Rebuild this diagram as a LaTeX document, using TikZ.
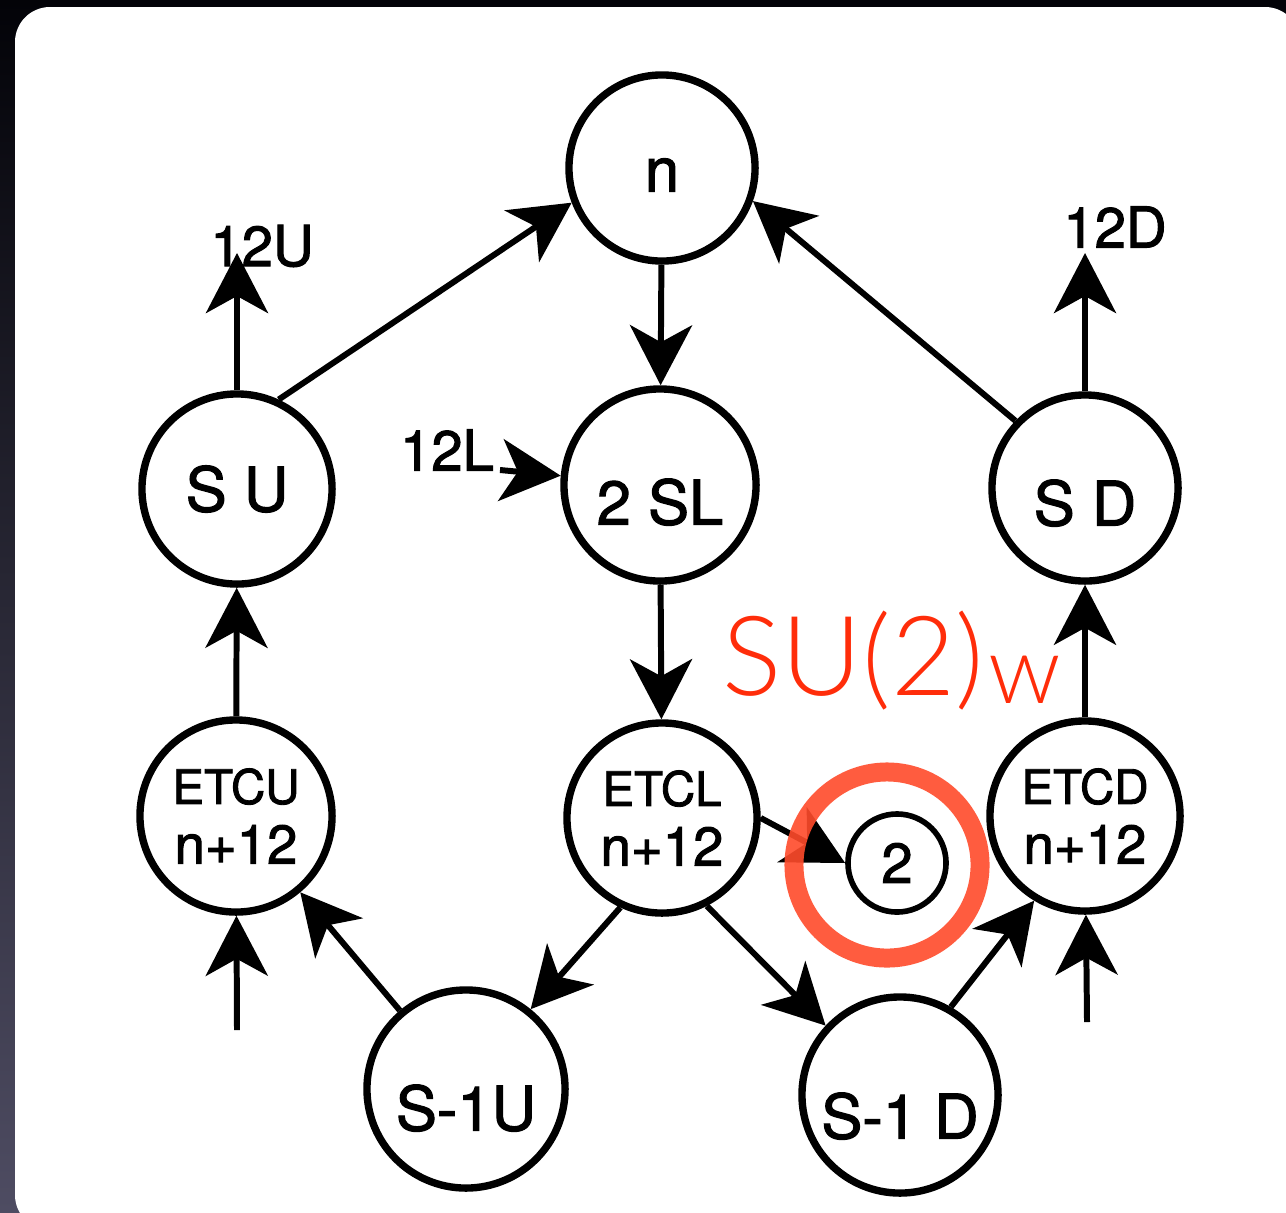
\documentclass[tikz,border=0pt]{standalone}
\usepackage{fontspec}
\setmainfont{TeX Gyre Heros}[FakeBold=1.8]
\newfontfamily\redfont{Lato Light}
\usetikzlibrary{arrows.meta}
\definecolor{ringred}{HTML}{FF4B2B}
\definecolor{textred}{HTML}{FF2D0A}
\definecolor{bgtop}{HTML}{030308}
\definecolor{bgmid}{HTML}{0E0E24}
\definecolor{bgbot}{HTML}{4E4C62}

\begin{document}
\begin{tikzpicture}[x=0.01cm, y=-0.01cm,
    state/.style={draw, circle, line width=2.1pt, inner sep=0pt, font=\fontsize{17.5}{20}\selectfont},
    etc/.style={state, align=center, font=\fontsize{15.5}{17}\selectfont},
    flow/.style={-{Stealth[length=6mm, width=6.2mm, inset=1.7mm]}, line width=1.7pt},
    tag/.style={font=\fontsize{16}{18}\selectfont}]
            % frame
            \useasboundingbox (0,0) rectangle (1286,1212);
            \shade[top color=bgtop, middle color=bgmid, bottom color=bgbot] (0,0) rectangle (1286,1212);
            \fill[white, rounded corners=0.35cm] (15,7) rectangle (1300,1230);

            % states
            \node[state, minimum size=1.86cm, text height=0.47cm, text depth=0pt] (n) at (662,168) {n};
            \node[state, minimum size=1.9cm] (su) at (237,489) {S U};
            \node[state, minimum size=1.92cm, text height=0.79cm, text depth=0pt] (tsl) at (660,485) {2 SL};
            \node[state, minimum size=1.86cm, text height=0.75cm, text depth=0pt] (sd) at (1085,488) {S D};
            \node[etc, minimum size=1.92cm] (etcu) at (236,816) {{\fontsize{13.5}{17}\selectfont ETCU}\\n+12};
            \node[etc, minimum size=1.9cm] (etcl) at (662,818) {{\fontsize{13.5}{17}\selectfont ETCL}\\n+12};
            \node[etc, minimum size=1.9cm] (etcd) at (1085,816) {{\fontsize{13.5}{17}\selectfont ETCD}\\n+12};
            \node[state, minimum size=1.98cm, text height=0.83cm, text depth=0pt] (smu) at (466,1089) {S-1U};
            \node[state, minimum size=1.96cm, text height=0.87cm, text depth=0pt] (smd) at (900,1095) {S-1 D};
            \node[state, minimum size=0.98cm, line width=1.6pt, font=\fontsize{16}{18}\selectfont] (two) at (897,863) {2};

            % loose ends
            \coordinate (uend) at (237,253);
            \coordinate (dend) at (1085,253);
            \coordinate (lstart) at (500,470);
            \coordinate (uin) at (237,1030);
            \coordinate (din) at (1087,1022);

            \node[tag] (lblu) at (262,246) {12U};
            \node[tag] (lbld) at (1115,227) {12D};
            \node[tag] (lbll) at (447,450) {12L};

            \draw[flow] (su) -- (uend);
            \draw[flow] (su.65) -- (n.201);
            \draw[flow] (n) -- (tsl);
            \draw[flow] (lstart) -- (tsl);
            \draw[flow] (tsl) -- (etcl);
            \draw[flow] (sd.136) -- (n.340);
            \draw[flow] (sd) -- (dend);
            \draw[flow] (etcu) -- (su);
            \draw[flow] (etcd) -- (sd);
            \draw[flow] (uin) -- (etcu);
            \draw[flow] (din) -- (etcd);
            \draw[flow] (smu) -- (etcu);
            \draw[flow] (etcl.245) -- (smu.51);
            \draw[flow] (etcl.297) -- (smd.137);
            \draw[flow] (smd.60) -- (etcd.239);
            \draw[flow] (etcl.east) -- (two.west);

            % highlight
            \draw[ringred, line width=5.4pt, opacity=0.9] (887,865) circle[radius=0.93cm];
            \node[anchor=base west, inner sep=0pt, text=textred, font=\redfont\fontsize{31.5}{34}\selectfont] (suw) at (722,695) {SU(2)};
            \node[anchor=base west, inner sep=0pt, text=textred, font=\redfont\fontsize{27}{30}\selectfont] (wsub) at ([xshift=0.03cm, yshift=-0.08cm]suw.base east) {w};
        \end{tikzpicture}
\end{document}
